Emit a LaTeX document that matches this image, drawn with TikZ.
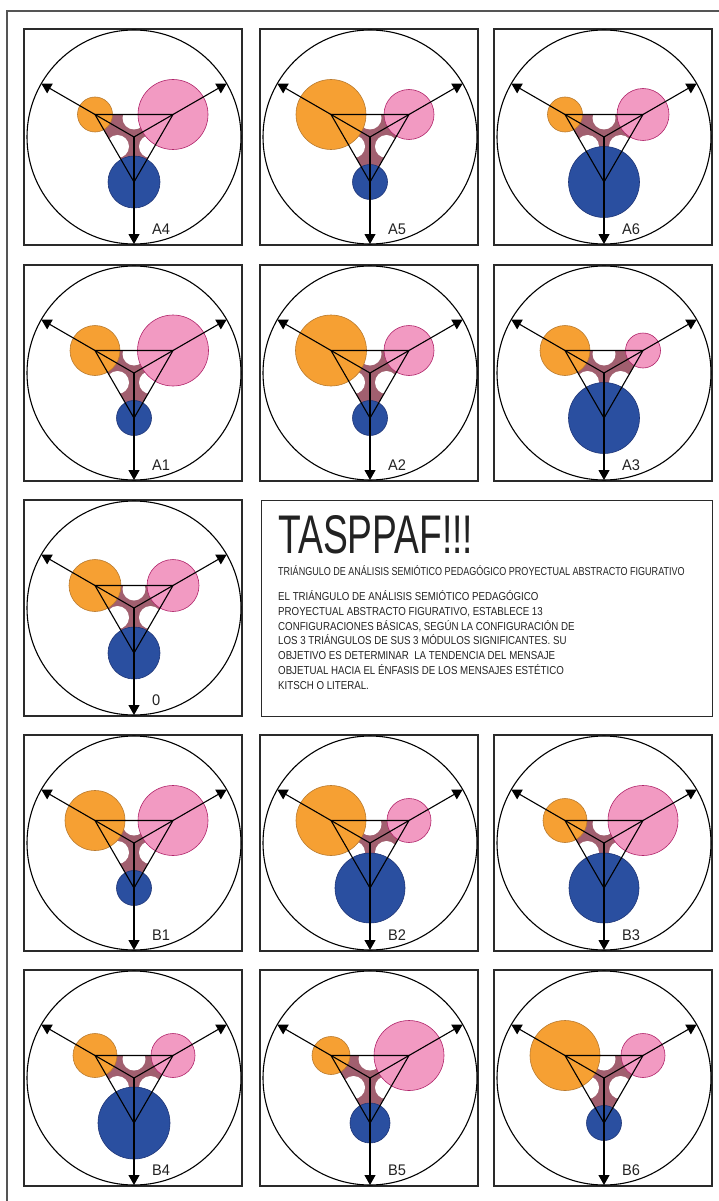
\documentclass[tikz,border=0pt]{standalone}
\usepackage{fontspec}
\setmainfont{Liberation Sans}
\newfontfamily\condf[FakeStretch=0.845]{Liberation Sans}
\newfontfamily\subf[FakeStretch=0.785]{Liberation Sans}
\newfontfamily\lblf[FakeStretch=0.95]{Liberation Sans}
\usetikzlibrary{arrows.meta,calc}
\definecolor{orng}{HTML}{F6A033}
\definecolor{orngedge}{HTML}{B97A2E}
\definecolor{pnk}{HTML}{F29AC2}
\definecolor{pnkedge}{HTML}{B0246A}
\definecolor{blu}{HTML}{2A4FA0}
\definecolor{bluedge}{HTML}{1E3577}
\definecolor{mauve}{HTML}{A15F6F}
\definecolor{boxgray}{HTML}{2A2A2A}
\definecolor{framegray}{HTML}{555555}
\definecolor{txtgray}{HTML}{222222}
\tikzset{
  panelbox/.style={draw=boxgray, line width=1.3pt, inner sep=0pt},
  ring/.style={draw=black, line width=1.1pt, circle, inner sep=0pt},
  ray/.style={draw=black, line width=1.1pt, -{Triangle[width=11pt,length=10pt]}},
  tri/.style={draw=black, line width=1.1pt, line join=miter},
  modO/.style={circle, inner sep=0pt, fill=orng, draw=orngedge, line width=0.6pt},
  modP/.style={circle, inner sep=0pt, fill=pnk, draw=pnkedge, line width=0.6pt},
  modB/.style={circle, inner sep=0pt, fill=blu, draw=bluedge, line width=0.6pt},
  lbl/.style={anchor=base west, inner sep=0pt, text=txtgray, font=\lblf\fontsize{15.4}{18}\selectfont},
  txt/.style={anchor=base west, inner sep=0pt, text=txtgray, font=\condf\fontsize{11.5}{14.6}\selectfont},
}
% name, cx, cy, rO, rP, rB, label
\newcommand\panelfig[7]{%
  \coordinate (#1c) at (#2,#3);
  \coordinate (#1o) at ($(#1c)+(-39,-22.5)$);
  \coordinate (#1p) at ($(#1c)+(39,-22.5)$);
  \coordinate (#1b) at ($(#1c)+(0,45)$);
  \coordinate (#1to) at ($(#1c)+(-92.7,-53.5)$);
  \coordinate (#1tp) at ($(#1c)+(92.7,-53.5)$);
  \coordinate (#1tb) at ($(#1c)+(0,107)$);
  \node[panelbox, minimum width=218pt, minimum height=216pt] (#1box) at ($(#1c)+(-1,0)$) {};
  \node[ring, minimum size=214pt] (#1ring) at (#1c) {};
  \fill[mauve] (#1o) -- (#1p) -- (#1b) -- cycle;
  \fill[white] ($(#1c)+(0,-19)$) circle (11.5) ($(#1c)+(-16.5,9.5)$) circle (11.5) ($(#1c)+(16.5,9.5)$) circle (11.5);
  \node[modO, minimum size=#4*2pt] (#1mo) at (#1o) {};
  \node[modP, minimum size=#5*2pt] (#1mp) at (#1p) {};
  \node[modB, minimum size=#6*2pt] (#1mb) at (#1b) {};
  \draw[tri] (#1o) -- (#1p) -- (#1b) -- cycle;
  \draw[ray] (#1c) -- (#1to);
  \draw[ray] (#1c) -- (#1tp);
  \draw[ray] (#1c) -- (#1tb);
  \node[lbl] (#1lab) at ($(#1c)+(18,97)$) {#7};
}
\begin{document}
\begin{tikzpicture}[x=1pt,y=-1pt]
\useasboundingbox (0,0) rectangle (719,1201);
\fill[white] (0,0) rectangle (719,1201);
\coordinate (fbl) at (7,1215);
\coordinate (fcorner) at (7,11);
\coordinate (ftr) at (735,11);
\draw[framegray, line width=1.5pt] (fbl) -- (fcorner) -- (ftr);

\panelfig{pA4}{134}{137}{17.5}{35}{26}{A4}
\panelfig{pA5}{370}{137}{35}{25}{17.5}{A5}
\panelfig{pA6}{604}{137}{17.5}{26}{35.5}{A6}
\panelfig{pA1}{134}{373}{25}{35.5}{17.5}{A1}
\panelfig{pA2}{370}{373}{35.5}{25}{17.5}{A2}
\panelfig{pA3}{604}{373}{25}{17.5}{35.5}{A3}
\panelfig{pZ}{134}{608}{26}{26}{26}{0}
\panelfig{pB1}{134}{843}{30}{35}{17.5}{B1}
\panelfig{pB2}{370}{843}{35}{22}{35}{B2}
\panelfig{pB3}{604}{843}{22}{35}{35}{B3}
\panelfig{pB4}{134}{1078}{22}{22}{36}{B4}
\panelfig{pB5}{370}{1078}{19}{35}{20}{B5}
\panelfig{pB6}{604}{1078}{35}{22}{17.5}{B6}

\node[panelbox, minimum width=451pt, minimum height=216pt, anchor=north west] (textbox) at (261,500) {};
\node[anchor=base west, inner sep=0pt, text=txtgray] (title) at (278,553) {\resizebox{195pt}{38pt}{TASPPAF!!!}};
\node[txt, font=\subf\fontsize{11.5}{14.6}\selectfont] (sub) at (278,575) {TRIÁNGULO DE ANÁLISIS SEMIÓTICO PEDAGÓGICO PROYECTUAL ABSTRACTO FIGURATIVO};
\node[txt] (l1) at (278,600.3) {EL TRIÁNGULO DE ANÁLISIS SEMIÓTICO PEDAGÓGICO};
\node[txt] (l2) at (278,615.1) {PROYECTUAL ABSTRACTO FIGURATIVO, ESTABLECE 13};
\node[txt] (l3) at (278,630.0) {CONFIGURACIONES BÁSICAS, SEGÚN LA CONFIGURACIÓN DE};
\node[txt] (l4) at (278,644.8) {LOS 3 TRIÁNGULOS DE SUS 3 MÓDULOS SIGNIFICANTES. SU};
\node[txt] (l5) at (278,659.7) {OBJETIVO ES DETERMINAR\ \ LA TENDENCIA DEL MENSAJE};
\node[txt] (l6) at (278,674.5) {OBJETUAL HACIA EL ÉNFASIS DE LOS MENSAJES ESTÉTICO};
\node[txt] (l7) at (278,689.4) {KITSCH O LITERAL.};
\end{tikzpicture}
\end{document}
